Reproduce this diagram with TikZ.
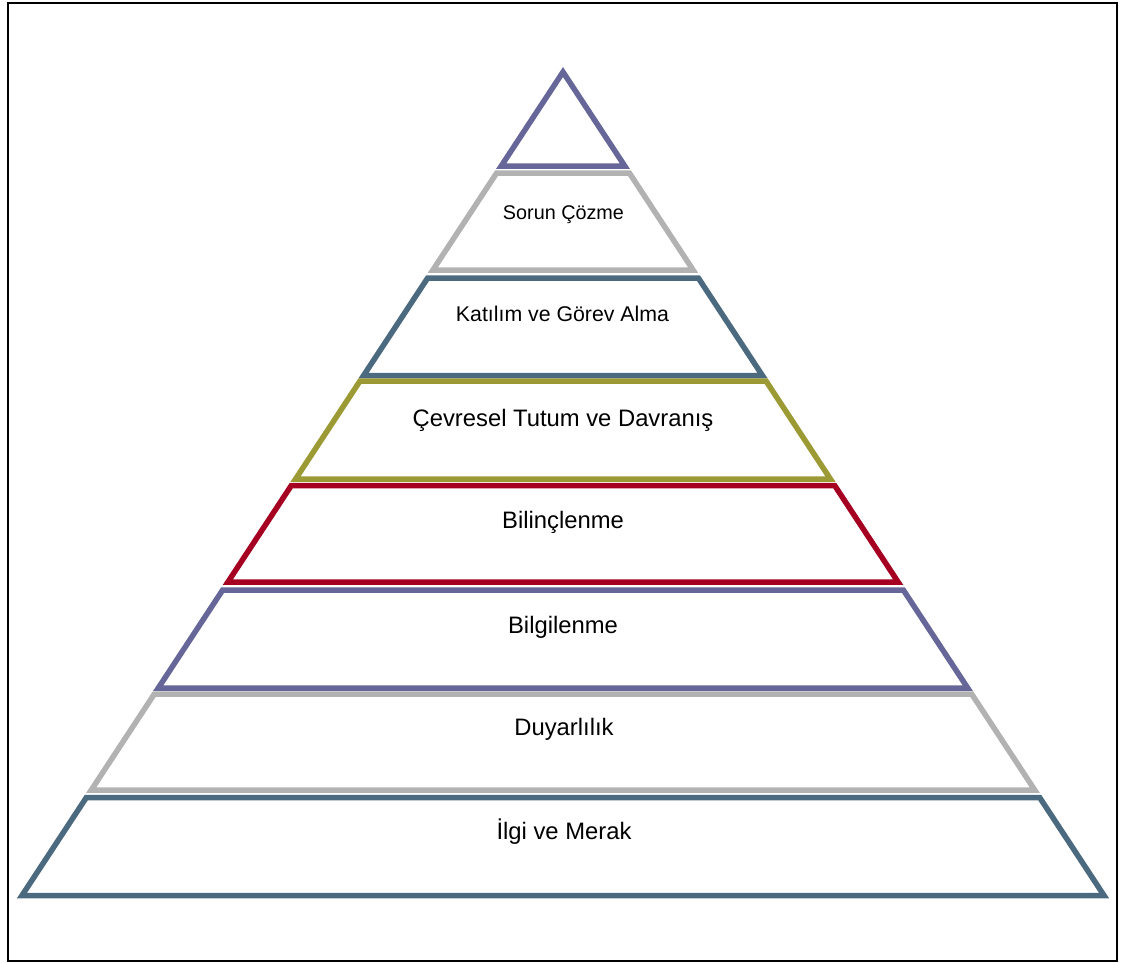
\documentclass[tikz,border=0pt]{standalone}
\usepackage{fontspec}
\setmainfont{Liberation Sans}

\definecolor{tierpurple}{HTML}{666699}
\definecolor{tiergray}{HTML}{B2B2B2}
\definecolor{tierslate}{HTML}{4B6A80}
\definecolor{tierolive}{HTML}{9B9A35}
\definecolor{tierred}{HTML}{A50021}

% edges of the pyramid at height y (apex at y = 72, centre x = 563)
\newcommand\pyrL[1]{{563-0.657*(#1-72)}}
\newcommand\pyrR[1]{{563+0.657*(#1-72)}}
% one trapezoidal tier between heights #1 (top) and #2 (bottom)
\newcommand\pyrtier[3]{%
  \draw[tier,#3] (\pyrL{#1},#1) -- (\pyrR{#1},#1) -- (\pyrR{#2},#2)
    -- (\pyrL{#2},#2) -- cycle;}

\begin{document}
\begin{tikzpicture}[x=1pt,y=-1pt,
    tier/.style={line width=5.5pt, line join=miter},
    tiertext/.style={anchor=base, inner sep=0pt,
      font=\fontsize{23.8}{28}\selectfont},
    smalltext/.style={tiertext, font=\fontsize{#1}{24}\selectfont}]
  \useasboundingbox (0,0) rectangle (1124,962);
  \draw[line width=2pt] (8,3) rectangle (1117,961);

  % top triangle
  \draw[tier,tierpurple] (563,72) -- (\pyrR{166},166) -- (\pyrL{166},166) -- cycle;
  % tiers from top to bottom
  \pyrtier{173}{270}{tiergray}
  \pyrtier{278}{375.5}{tierslate}
  \pyrtier{381}{479}{tierolive}
  \pyrtier{485.5}{582}{tierred}
  \pyrtier{590}{688}{tierpurple}
  \pyrtier{694}{790}{tiergray}
  \pyrtier{797.5}{895.5}{tierslate}

  % tier labels
  \node[smalltext=19.8] (sorun)   at (563.5,219) {Sorun Çözme};
  \node[smalltext=21.3] (katilim) at (562.5,321) {Katılım ve Görev Alma};
  \node[tiertext] (cevresel) at (563,426.5)   {Çevresel Tutum ve Davranış};
  \node[tiertext] (bilinc)   at (563,528.5)   {Bilinçlenme};
  \node[tiertext] (bilgi)    at (563,633.5)   {Bilgilenme};
  \node[tiertext] (duyar)    at (564,735.5)   {Duyarlılık};
  \node[tiertext] (ilgi)     at (564,839.5)   {İlgi ve Merak};
\end{tikzpicture}
\end{document}
